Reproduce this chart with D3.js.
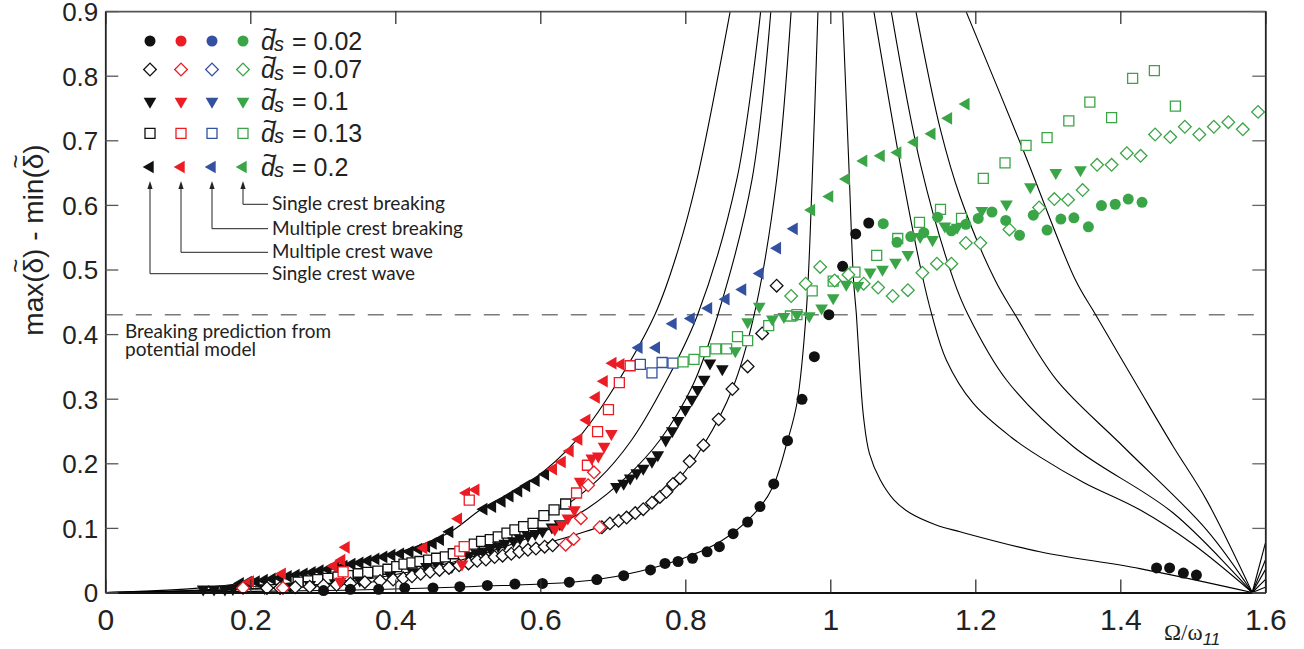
<!DOCTYPE html>
<html>
<head>
<meta charset="utf-8">
<script src="https://cdn.jsdelivr.net/npm/d3@7"></script>
<style>
  body { margin: 0; background: #fff; }
  svg { display: block; }
</style>
</head>
<body>
<div id="chart"></div>
<script>
// ---- tick values ----
var xTicks = [0, 0.2, 0.4, 0.6, 0.8, 1, 1.2, 1.4, 1.6];
var yTicks = [0, 0.1, 0.2, 0.3, 0.4, 0.5, 0.6, 0.7, 0.8, 0.9];
var breakingLevel = 0.43;

// ---- theory curves (left branches, right branches) ----
var left1 = [[0,0],[0.12,0.006],[0.22,0.019],[0.363,0.049],[0.47,0.09],[0.52,0.13],[0.59,0.175],[0.65,0.236],[0.692,0.30],[0.758,0.43],[0.79,0.53],[0.816,0.639],[0.862,0.9]];
var left2 = [[0,0],[0.15,0.005],[0.293,0.02],[0.445,0.05],[0.55,0.09],[0.628,0.13],[0.68,0.175],[0.726,0.236],[0.775,0.33],[0.817,0.43],[0.871,0.639],[0.904,0.9]];
var left3 = [[0,0],[0.18,0.005],[0.35,0.019],[0.49,0.05],[0.60,0.092],[0.665,0.13],[0.72,0.18],[0.765,0.236],[0.81,0.32],[0.845,0.43],[0.892,0.639],[0.918,0.9]];
var left4 = [[0,0],[0.2,0.005],[0.397,0.02],[0.52,0.05],[0.62,0.08],[0.69,0.105],[0.742,0.13],[0.79,0.175],[0.825,0.228],[0.865,0.315],[0.895,0.43],[0.926,0.639],[0.946,0.9]];
var left5 = [[0,0],[0.3,0.003],[0.5,0.009],[0.678,0.02],[0.79,0.05],[0.85,0.08],[0.90,0.128],[0.921,0.164],[0.940,0.231],[0.954,0.293],[0.967,0.437],[0.975,0.639],[0.983,0.9]];
var right1 = [[1.017,0.9],[1.026,0.65],[1.032,0.484],[1.036,0.43],[1.041,0.34],[1.046,0.27],[1.054,0.215],[1.069,0.174],[1.088,0.143],[1.110,0.123],[1.145,0.105],[1.179,0.094],[1.289,0.063],[1.427,0.037],[1.582,0]];
var right2 = [[1.060,0.9],[1.097,0.66],[1.125,0.50],[1.140,0.43],[1.160,0.36],[1.197,0.293],[1.25,0.24],[1.289,0.21],[1.35,0.17],[1.427,0.128],[1.50,0.075],[1.582,0]];
var right3 = [[1.084,0.9],[1.125,0.66],[1.170,0.484],[1.190,0.43],[1.243,0.329],[1.335,0.226],[1.473,0.123],[1.582,0]];
var right4 = [[1.118,0.9],[1.152,0.716],[1.179,0.613],[1.227,0.484],[1.255,0.43],[1.312,0.329],[1.404,0.226],[1.519,0.097],[1.582,0]];
var right5 = [[1.187,0.9],[1.266,0.685],[1.338,0.484],[1.366,0.43],[1.427,0.313],[1.473,0.226],[1.519,0.143],[1.582,0]];
var tailEnds = [0.008, 0.02, 0.035, 0.05, 0.076]; // value at 1.6 after the node

// ---- measured points: d_s = 0.02 (circles) ----
var circleBlack = [[0.301,0.003],[0.338,0.005],[0.377,0.005],[0.413,0.007],[0.452,0.007],[0.489,0.009],[0.527,0.011],[0.565,0.013],[0.603,0.014],[0.640,0.016],[0.678,0.020],[0.715,0.026],[0.752,0.035],[0.772,0.045],[0.790,0.048],[0.810,0.053],[0.830,0.063],[0.847,0.071],[0.866,0.091],[0.886,0.109],[0.903,0.133],[0.922,0.168],[0.941,0.235],[0.961,0.299],[0.978,0.365],[0.998,0.430],[1.017,0.505],[1.035,0.555],[1.053,0.572],[1.450,0.038],[1.468,0.038],[1.487,0.030],[1.505,0.027]];
var circleGreen = [[1.073,0.571],[1.092,0.542],[1.111,0.551],[1.129,0.557],[1.148,0.581],[1.167,0.560],[1.187,0.570],[1.204,0.579],[1.223,0.589],[1.242,0.576],[1.261,0.553],[1.280,0.584],[1.299,0.561],[1.318,0.578],[1.336,0.580],[1.356,0.566],[1.374,0.599],[1.393,0.601],[1.411,0.609],[1.430,0.604]];

// ---- d_s = 0.07 (diamonds) ----
var diamondBlack = [[0.223,0.007],[0.241,0.007],[0.262,0.008],[0.282,0.009],[0.301,0.011],[0.319,0.012],[0.338,0.014],[0.358,0.016],[0.379,0.018],[0.397,0.020],[0.411,0.022],[0.423,0.025],[0.435,0.029],[0.448,0.032],[0.461,0.035],[0.474,0.038],[0.488,0.042],[0.501,0.045],[0.513,0.049],[0.525,0.051],[0.537,0.055],[0.548,0.057],[0.560,0.060],[0.571,0.063],[0.583,0.066],[0.594,0.068],[0.606,0.071],[0.617,0.073],[0.685,0.101],[0.696,0.107],[0.708,0.111],[0.719,0.116],[0.731,0.123],[0.742,0.129],[0.754,0.139],[0.765,0.148],[0.774,0.156],[0.783,0.168],[0.793,0.177],[0.806,0.203],[0.825,0.228],[0.846,0.268],[0.865,0.315],[0.886,0.350],[0.906,0.401],[0.926,0.475]];
var diamondRed = [[0.190,0.007],[0.245,0.007],[0.635,0.074],[0.646,0.083],[0.656,0.115],[0.666,0.166],[0.674,0.186],[0.682,0.101]];
var diamondGreen = [[0.946,0.459],[0.966,0.478],[0.986,0.504],[1.006,0.483],[1.025,0.492],[1.046,0.478],[1.066,0.472],[1.086,0.459],[1.107,0.468],[1.127,0.495],[1.147,0.509],[1.167,0.509],[1.187,0.541],[1.207,0.541],[1.247,0.562],[1.288,0.596],[1.309,0.609],[1.328,0.608],[1.348,0.623],[1.368,0.662],[1.388,0.662],[1.409,0.680],[1.428,0.676],[1.448,0.709],[1.469,0.705],[1.489,0.721],[1.509,0.709],[1.529,0.721],[1.549,0.728],[1.569,0.717],[1.590,0.744]];

// ---- d_s = 0.1 (down triangles) ----
var triDownBlack = [[0.135,0.005],[0.150,0.005],[0.165,0.005],[0.176,0.006],[0.220,0.007],[0.255,0.009],[0.282,0.012],[0.317,0.015],[0.351,0.019],[0.393,0.027],[0.424,0.032],[0.443,0.040],[0.459,0.041],[0.478,0.040],[0.501,0.057],[0.512,0.061],[0.521,0.064],[0.531,0.068],[0.542,0.072],[0.551,0.076],[0.563,0.080],[0.572,0.084],[0.583,0.088],[0.593,0.091],[0.603,0.095],[0.616,0.101],[0.627,0.106],[0.705,0.164],[0.715,0.169],[0.724,0.177],[0.733,0.185],[0.742,0.192],[0.754,0.203],[0.762,0.213],[0.773,0.236],[0.782,0.250],[0.790,0.266],[0.800,0.283],[0.809,0.299],[0.817,0.314],[0.826,0.330],[0.834,0.355],[0.851,0.346]];
var triDownRed = [[0.324,0.017],[0.492,0.044],[0.620,0.098],[0.630,0.105],[0.638,0.115],[0.647,0.128],[0.655,0.172],[0.671,0.208],[0.680,0.211],[0.688,0.226],[0.698,0.246]];
var triDownGreen = [[0.869,0.374],[0.886,0.419],[0.902,0.443],[0.920,0.423],[0.936,0.427],[0.954,0.430],[0.971,0.428],[0.988,0.440],[1.004,0.456],[1.022,0.477],[1.038,0.475],[1.055,0.496],[1.072,0.500],[1.090,0.511],[1.107,0.523],[1.124,0.551],[1.141,0.546],[1.158,0.567],[1.175,0.565],[1.209,0.591],[1.243,0.601],[1.276,0.628],[1.311,0.650],[1.345,0.654]];

// ---- d_s = 0.13 (squares) ----
var squareBlack = [[0.266,0.016],[0.280,0.018],[0.293,0.020],[0.307,0.022],[0.321,0.024],[0.335,0.026],[0.349,0.029],[0.362,0.031],[0.376,0.033],[0.390,0.036],[0.402,0.040],[0.412,0.044],[0.423,0.046],[0.434,0.048],[0.446,0.050],[0.457,0.053],[0.469,0.055],[0.480,0.060],[0.509,0.075],[0.519,0.079],[0.531,0.082],[0.542,0.086],[0.554,0.092],[0.565,0.097],[0.577,0.102],[0.590,0.107],[0.605,0.119],[0.619,0.128],[0.635,0.137]];
var squareRed = [[0.328,0.032],[0.489,0.064],[0.495,0.071],[0.502,0.143],[0.650,0.154],[0.665,0.197],[0.679,0.249],[0.694,0.283],[0.709,0.325],[0.724,0.351]];
var squareBlue = [[0.738,0.353],[0.754,0.340],[0.768,0.356],[0.783,0.355]];
var squareGreen = [[0.797,0.357],[0.812,0.361],[0.827,0.373],[0.842,0.377],[0.857,0.377],[0.872,0.396],[0.886,0.390],[0.915,0.413],[0.945,0.428],[0.954,0.430],[0.975,0.467],[1.004,0.482],[1.034,0.496],[1.064,0.522],[1.093,0.548],[1.123,0.573],[1.152,0.593],[1.181,0.579],[1.211,0.641],[1.241,0.665],[1.270,0.692],[1.299,0.704],[1.329,0.730],[1.358,0.759],[1.388,0.735],[1.417,0.796],[1.447,0.808],[1.476,0.753]];

// ---- d_s = 0.2 (left triangles) ----
var triLeftBlack = [[0.186,0.014],[0.197,0.016],[0.208,0.017],[0.219,0.019],[0.230,0.021],[0.241,0.023],[0.252,0.025],[0.263,0.027],[0.274,0.029],[0.285,0.031],[0.296,0.034],[0.307,0.036],[0.318,0.039],[0.329,0.041],[0.340,0.044],[0.351,0.046],[0.362,0.049],[0.373,0.052],[0.384,0.055],[0.395,0.058],[0.407,0.060],[0.420,0.063],[0.432,0.067],[0.443,0.071],[0.452,0.076],[0.462,0.082],[0.475,0.094],[0.522,0.129],[0.534,0.133],[0.547,0.141],[0.558,0.149],[0.570,0.157],[0.581,0.165],[0.594,0.173],[0.607,0.183]];
var triLeftRed = [[0.200,0.017],[0.244,0.029],[0.315,0.041],[0.326,0.050],[0.332,0.070],[0.439,0.069],[0.487,0.114],[0.498,0.154],[0.511,0.159],[0.618,0.191],[0.630,0.202],[0.641,0.219],[0.653,0.237],[0.664,0.267],[0.677,0.302],[0.688,0.327],[0.700,0.355],[0.711,0.353]];
var triLeftBlue = [[0.736,0.379],[0.760,0.379],[0.783,0.416],[0.808,0.424],[0.832,0.440],[0.856,0.454],[0.879,0.469],[0.903,0.494],[0.927,0.533],[0.950,0.563]];
var triLeftGreen = [[0.974,0.592],[0.999,0.613],[1.022,0.640],[1.046,0.668],[1.070,0.676],[1.093,0.681],[1.116,0.697],[1.140,0.710],[1.163,0.734],[1.187,0.756]];

// ---- legend text ----
var legendValues = ["0.02", "0.07", "0.1", "0.13", "0.2"];
var regimeLabels = ["Single crest wave", "Multiple crest wave", "Multiple crest breaking", "Single crest breaking"];

var colBlack = "#111111", colRed = "#ec1c24", colBlue = "#3451a1", colGreen = "#3aa547";
var regimeColors = [colBlack, colRed, colBlue, colGreen];
var shapes = ["circle", "diamond", "down", "square", "left"];

var width = 1304, height = 649;
var svg = d3.select("#chart").append("svg")
    .attr("width", width)
    .attr("height", height);

var x = d3.scaleLinear().domain([0, 1.6]).range([105.3, 1265.3]);
var y = d3.scaleLinear().domain([0, 0.9]).range([592.5, 11.1]);

svg.append("clipPath").attr("id", "plotclip")
  .append("rect")
    .attr("x", x(0)).attr("y", y(0.9))
    .attr("width", x(1.6) - x(0)).attr("height", y(0) - y(0.9));

// dashed breaking line
svg.append("line")
    .attr("x1", x(0) + 1.5).attr("x2", x(1.6))
    .attr("y1", y(breakingLevel)).attr("y2", y(breakingLevel))
    .attr("stroke", "#7a7a7a")
    .attr("stroke-width", 1.6)
    .attr("stroke-dasharray", "16,13");

// theory curves
var line = d3.line()
    .x(function(d) { return x(d[0]); })
    .y(function(d) { return y(d[1]); })
    .curve(d3.curveCatmullRom.alpha(0.5));

var curves = svg.append("g").attr("clip-path", "url(#plotclip)");
[left1, left2, left3, left4, left5, right1, right2, right3, right4, right5].forEach(function(c) {
  curves.append("path")
    .attr("d", line(c))
    .attr("fill", "none")
    .attr("stroke", "#000")
    .attr("stroke-width", 1.1);
});
tailEnds.forEach(function(v) {
  curves.append("path")
    .attr("d", d3.line().x(function(d) { return x(d[0]); }).y(function(d) { return y(d[1]); })([[1.582, 0], [1.6, v]]))
    .attr("fill", "none")
    .attr("stroke", "#000")
    .attr("stroke-width", 1.1);
});

// marker helper
function markerPath(shape) {
  if (shape === "circle") return d3.symbol(d3.symbolCircle, 95)();
  if (shape === "diamond") return d3.symbol(d3.symbolSquare, 80)();
  if (shape === "square") return d3.symbol(d3.symbolSquare, 100)();
  return d3.symbol(d3.symbolTriangle, 70)();
}
function markerRotate(shape) {
  if (shape === "diamond") return 45;
  if (shape === "down") return 180;
  if (shape === "left") return -90;
  return 0;
}
function isOpen(shape) { return shape === "diamond" || shape === "square"; }

function drawMarkers(g, data, shape, color) {
  g.append("g").selectAll("path")
    .data(data)
    .enter().append("path")
      .attr("d", markerPath(shape))
      .attr("transform", function(d) {
        return "translate(" + x(d[0]) + "," + y(d[1]) + ") rotate(" + markerRotate(shape) + ")";
      })
      .attr("fill", isOpen(shape) ? "#fff" : color)
      .attr("stroke", isOpen(shape) ? color : "none")
      .attr("stroke-width", 1.3);
}

var marks = svg.append("g");
var seriesList = [
  [triLeftBlack, "left", colBlack], [squareBlack, "square", colBlack], [triDownBlack, "down", colBlack],
  [diamondBlack, "diamond", colBlack], [circleBlack, "circle", colBlack],
  [triLeftRed, "left", colRed], [squareRed, "square", colRed], [triDownRed, "down", colRed], [diamondRed, "diamond", colRed],
  [triLeftBlue, "left", colBlue], [squareBlue, "square", colBlue],
  [squareGreen, "square", colGreen], [diamondGreen, "diamond", colGreen], [triDownGreen, "down", colGreen],
  [circleGreen, "circle", colGreen], [triLeftGreen, "left", colGreen]
];
seriesList.forEach(function(s) { drawMarkers(marks, s[0], s[1], s[2]); });

// axes
var xAxisB = svg.append("g")
    .attr("transform", "translate(0," + y(0) + ")")
    .call(d3.axisBottom(x).tickValues(xTicks).tickSize(-13).tickSizeOuter(0)
      .tickFormat(function(d) { return d3.format("")(d); }));
xAxisB.select(".domain").attr("stroke", "#111").attr("stroke-width", 2);
xAxisB.selectAll(".tick line").attr("stroke", "#333").attr("stroke-width", 1.3);
xAxisB.selectAll(".tick text")
    .attr("y", 37.5).attr("dy", null)
    .attr("fill", "#222")
    .style("font-family", "'Liberation Sans Narrow', 'Arial Narrow', 'Liberation Sans', sans-serif")
    .style("font-size", "30px");

var xAxisT = svg.append("g")
    .attr("transform", "translate(0," + y(0.9) + ")")
    .call(d3.axisTop(x).tickValues(xTicks).tickSize(-13).tickSizeOuter(0).tickFormat(""));
xAxisT.select(".domain").attr("stroke", "#555").attr("stroke-width", 1.6);
xAxisT.selectAll(".tick line").attr("stroke", "#333").attr("stroke-width", 1.3);

var yAxisL = svg.append("g")
    .attr("transform", "translate(" + x(0) + ",0)")
    .call(d3.axisLeft(y).tickValues(yTicks).tickSize(-13).tickSizeOuter(0)
      .tickFormat(function(d) { return d3.format("")(d); }));
yAxisL.select(".domain").attr("stroke", "#222").attr("stroke-width", 1.8);
yAxisL.selectAll(".tick line").attr("stroke", "#555").attr("stroke-width", 1.3);
yAxisL.selectAll(".tick text")
    .attr("x", -7).attr("dy", "0.36em")
    .attr("fill", "#222")
    .style("font-family", "'Liberation Sans', Arial, sans-serif")
    .style("font-size", "26px");

var yAxisR = svg.append("g")
    .attr("transform", "translate(" + x(1.6) + ",0)")
    .call(d3.axisRight(y).tickValues(yTicks).tickSize(-13).tickSizeOuter(0).tickFormat(""));
yAxisR.select(".domain").attr("stroke", "#222").attr("stroke-width", 1.8);
yAxisR.selectAll(".tick line").attr("stroke", "#666").attr("stroke-width", 1.3);

// y title, tildes placed over both deltas
var yTitle = svg.append("g").attr("transform", "translate(43,240) rotate(-90)");
var yText = yTitle.append("text")
    .attr("text-anchor", "middle")
    .attr("fill", "#222")
    .style("font-family", "'Liberation Sans', Arial, sans-serif")
    .style("font-size", "28px")
    .text("max(\u03b4) - min(\u03b4)");
[4, 13].forEach(function(idx) {
  var ext = yText.node().getExtentOfChar(idx);
  yTitle.append("text")
    .attr("x", ext.x + ext.width / 2)
    .attr("y", -19)
    .attr("text-anchor", "middle")
    .attr("fill", "#222")
    .style("font-family", "'Liberation Sans', Arial, sans-serif")
    .style("font-size", "24px")
    .text("~");
});

var xt = svg.append("text")
    .attr("x", 1164).attr("y", 640)
    .attr("fill", "#222");
xt.append("tspan")
    .style("font-family", "'Liberation Serif', 'Times New Roman', serif")
    .style("font-size", "23px")
    .text("\u03a9/\u03c9");
xt.append("tspan")
    .attr("dy", 5)
    .style("font-family", "'Liberation Sans', Arial, sans-serif")
    .style("font-style", "italic")
    .style("font-size", "17px")
    .text("11");

// breaking text
var bt = svg.append("g")
    .style("font-family", "Lato, 'Noto Sans', sans-serif")
    .style("font-size", "19px")
    .attr("fill", "#222");
bt.append("text").attr("x", 125).attr("y", 338).attr("textLength", 206).attr("lengthAdjust", "spacingAndGlyphs").text("Breaking prediction from");
bt.append("text").attr("x", 125).attr("y", 356).attr("textLength", 131).attr("lengthAdjust", "spacingAndGlyphs").text("potential model");

// legend
var legCols = [150, 181, 212, 243];
var legRows = [41, 69.5, 101.5, 133.3, 167];
var legend = svg.append("g");
shapes.forEach(function(shape, i) {
  legCols.forEach(function(cx, j) {
    legend.append("path")
      .attr("d", markerPath(shape))
      .attr("transform", "translate(" + cx + "," + legRows[i] + ") rotate(" + markerRotate(shape) + ")")
      .attr("fill", isOpen(shape) ? "#fff" : regimeColors[j])
      .attr("stroke", isOpen(shape) ? regimeColors[j] : "none")
      .attr("stroke-width", 1.3);
  });
  var ly = legRows[i];
  var lf = "'Liberation Sans', Arial, sans-serif";
  legend.append("text").attr("x", 270).attr("y", ly - 3.5).attr("text-anchor", "middle")
    .style("font-family", lf).style("font-size", "25px").attr("fill", "#222").text("~");
  legend.append("text").attr("x", 261).attr("y", ly + 8.5)
    .style("font-family", lf).style("font-size", "25px").style("font-style", "italic").attr("fill", "#222").text("d");
  legend.append("text").attr("x", 274).attr("y", ly + 10)
    .style("font-family", lf).style("font-size", "20px").style("font-style", "italic").attr("fill", "#222").text("s");
  legend.append("text").attr("x", 292).attr("y", ly + 8.5)
    .style("font-family", lf).style("font-size", "25px").attr("fill", "#222").text("= " + legendValues[i]);
});

// regime arrows
var arrowTop = 181;
var arrowEnds = [273.7, 252.3, 228.7, 204.3];
var textW = [143, 161, 191, 173];
legCols.forEach(function(cx, j) {
  legend.append("path")
    .attr("d", "M" + cx + "," + (arrowTop + 6) + "V" + arrowEnds[j] + "H268")
    .attr("fill", "none").attr("stroke", "#222").attr("stroke-width", 1);
  legend.append("path")
    .attr("d", "M" + cx + "," + arrowTop + "l-2.6,8h5.2z")
    .attr("fill", "#222");
  legend.append("text")
    .attr("x", 272).attr("y", arrowEnds[j] + 6)
    .attr("textLength", textW[j]).attr("lengthAdjust", "spacingAndGlyphs")
    .style("font-family", "Lato, 'Noto Sans', sans-serif")
    .style("font-size", "19px")
    .attr("fill", "#222")
    .text(regimeLabels[j]);
});
</script>
</body>
</html>
